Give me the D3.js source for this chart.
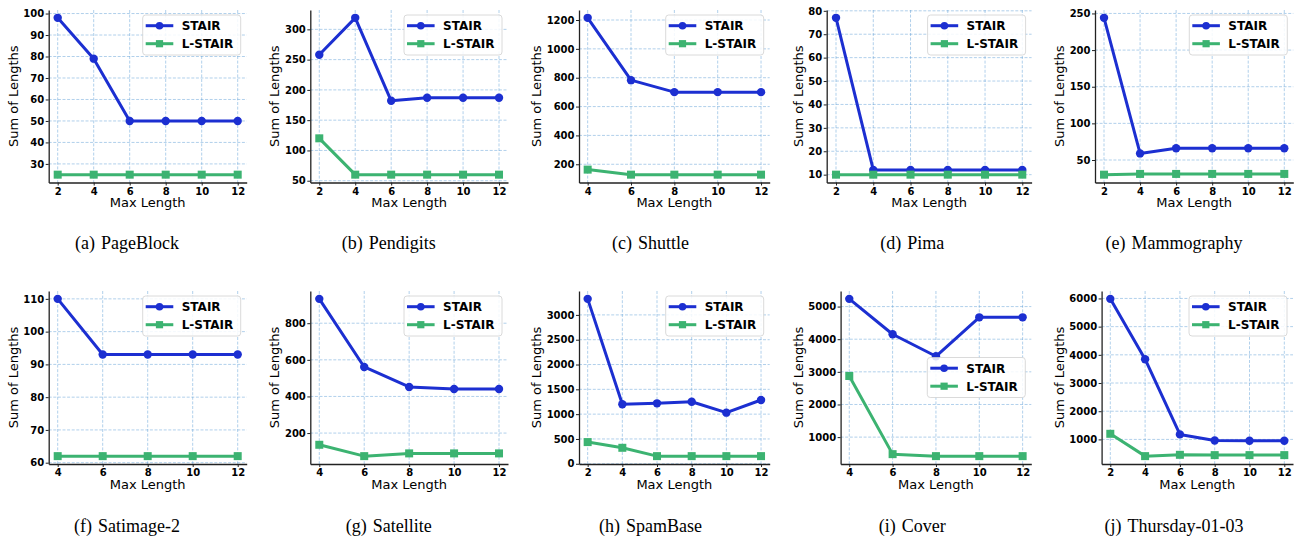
<!DOCTYPE html>
<html>
<head>
<meta charset="utf-8">
<script src="https://cdn.jsdelivr.net/npm/d3@7"></script>
<style>
  body { margin: 0; background: #fff; }
  svg { display: block; }
  .tick text { font-family: "DejaVu Sans", sans-serif; font-weight: bold; font-size: 10px; fill: #000; }
  .axis path, .axis line { stroke: #222; }
</style>
</head>
<body>
<div id="chart"></div>
<script>
// x values (max length)
const maxLenFrom2 = [2, 4, 6, 8, 10, 12];
const maxLenFrom4 = [4, 6, 8, 10, 12];

// Sum of lengths per dataset
const pageBlockStair = [98, 79, 50, 50, 50, 50];
const pageBlockLStair = [25, 25, 25, 25, 25, 25];
const pendigitsStair = [258, 319, 182, 187, 187, 187];
const pendigitsLStair = [120, 60, 60, 60, 60, 60];
const shuttleStair = [1215, 783, 700, 700, 700];
const shuttleLStair = [163, 128, 128, 128, 128];
const pimaStair = [77, 12, 12, 12, 12, 12];
const pimaLStair = [10, 10, 10, 10, 10, 10];
const mammographyStair = [244, 59, 66, 66, 66, 66];
const mammographyLStair = [30, 31, 31, 31, 31, 31];
const satimageStair = [110, 93, 93, 93, 93];
const satimageLStair = [62, 62, 62, 62, 62];
const satelliteStair = [933, 561, 452, 441, 441];
const satelliteLStair = [136, 74, 89, 89, 89];
const spamBaseStair = [3323, 1198, 1218, 1250, 1030, 1285];
const spamBaseLStair = [437, 322, 154, 154, 154, 154];
const coverStair = [5236, 4152, 3477, 4670, 4670];
const coverLStair = [2873, 478, 417, 417, 417];
const thursdayStair = [5985, 3845, 1178, 964, 955, 955];
const thursdayLStair = [1199, 407, 454, 443, 443, 443];

// y tick labels
const pageBlockTicks = [30, 40, 50, 60, 70, 80, 90, 100];
const pendigitsTicks = [50, 100, 150, 200, 250, 300];
const shuttleTicks = [200, 400, 600, 800, 1000, 1200];
const pimaTicks = [10, 20, 30, 40, 50, 60, 70, 80];
const mammographyTicks = [50, 100, 150, 200, 250];
const satimageTicks = [60, 70, 80, 90, 100, 110];
const satelliteTicks = [200, 400, 600, 800];
const spamBaseTicks = [0, 500, 1000, 1500, 2000, 2500, 3000];
const coverTicks = [1000, 2000, 3000, 4000, 5000];
const thursdayTicks = [1000, 2000, 3000, 4000, 5000, 6000];

const seriesNames = ["STAIR", "L-STAIR"];
const seriesColors = ["#1c2fd1", "#3cb371"];

const panels = [
  { tag: "(a)", name: "PageBlock", x: maxLenFrom2, stair: pageBlockStair, lstair: pageBlockLStair, ticks: pageBlockTicks },
  { tag: "(b)", name: "Pendigits", x: maxLenFrom2, stair: pendigitsStair, lstair: pendigitsLStair, ticks: pendigitsTicks },
  { tag: "(c)", name: "Shuttle", x: maxLenFrom4, stair: shuttleStair, lstair: shuttleLStair, ticks: shuttleTicks },
  { tag: "(d)", name: "Pima", x: maxLenFrom2, stair: pimaStair, lstair: pimaLStair, ticks: pimaTicks },
  { tag: "(e)", name: "Mammography", x: maxLenFrom2, stair: mammographyStair, lstair: mammographyLStair, ticks: mammographyTicks },
  { tag: "(f)", name: "Satimage-2", x: maxLenFrom4, stair: satimageStair, lstair: satimageLStair, ticks: satimageTicks },
  { tag: "(g)", name: "Satellite", x: maxLenFrom4, stair: satelliteStair, lstair: satelliteLStair, ticks: satelliteTicks },
  { tag: "(h)", name: "SpamBase", x: maxLenFrom2, stair: spamBaseStair, lstair: spamBaseLStair, ticks: spamBaseTicks },
  { tag: "(i)", name: "Cover", x: maxLenFrom4, stair: coverStair, lstair: coverLStair, ticks: coverTicks, legendMid: true },
  { tag: "(j)", name: "Thursday-01-03", x: maxLenFrom2, stair: thursdayStair, lstair: thursdayLStair, ticks: thursdayTicks },
];

// layout of the axes boxes (pixels)
const rowTop = [10, 291];
const rowBottom = [182.5, 464];
const axLeft = [48.7, 310.3, 579, 826.7, 1095, 48.7, 310.3, 579, 840.6, 1101.6];
const axRight = [246.7, 508, 769.7, 1031.6, 1293.3, 246.7, 508, 769.7, 1031.3, 1293];
const captionBase = [249, 532];

const svg = d3.select("#chart").append("svg")
  .attr("width", 1294)
  .attr("height", 539);

panels.forEach((p, i) => {
  const row = i < 5 ? 0 : 1;
  const col = i % 5;
  const left = axLeft[i], right = axRight[i];
  const top = rowTop[row], bottom = rowBottom[row];

  const xExt = d3.extent(p.x);
  const xPad = (xExt[1] - xExt[0]) * 0.05;
  const yExt = d3.extent(p.stair.concat(p.lstair));
  const yPad = (yExt[1] - yExt[0]) * 0.05;

  const x = d3.scaleLinear().domain([xExt[0] - xPad, xExt[1] + xPad]).range([left, right]);
  const y = d3.scaleLinear().domain([yExt[0] - yPad, yExt[1] + yPad]).range([bottom, top]);

  const g = svg.append("g");

  // grid
  const grid = g.append("g")
    .attr("stroke", "#5b9bd5")
    .attr("stroke-opacity", 0.6)
    .attr("stroke-width", 0.8)
    .attr("stroke-dasharray", "3,1.6");
  grid.selectAll(".gy").data(p.ticks).enter().append("line")
    .attr("x1", left).attr("x2", right)
    .attr("y1", (d) => y(d)).attr("y2", (d) => y(d));
  grid.selectAll(".gx").data(p.x).enter().append("line")
    .attr("x1", (d) => x(d)).attr("x2", (d) => x(d))
    .attr("y1", top).attr("y2", bottom);

  // series
  [p.stair, p.lstair].forEach((vals, s) => {
    const pts = vals.map((v, k) => ({ x: p.x[k], y: v }));
    const line = d3.line().x((d) => x(d.x)).y((d) => y(d.y));
    g.append("path")
      .datum(pts)
      .attr("d", line)
      .attr("fill", "none")
      .attr("stroke", seriesColors[s])
      .attr("stroke-width", 3)
      .attr("stroke-linejoin", "round");
    if (s === 0) {
      g.selectAll(".m0").data(pts).enter().append("circle")
        .attr("cx", (d) => x(d.x)).attr("cy", (d) => y(d.y))
        .attr("r", 4.2).attr("fill", seriesColors[s]);
    } else {
      g.selectAll(".m1").data(pts).enter().append("rect")
        .attr("x", (d) => x(d.x) - 4).attr("y", (d) => y(d.y) - 4)
        .attr("width", 8).attr("height", 8).attr("fill", seriesColors[s]);
    }
  });

  // axes
  const fmt = d3.format("d");
  const xAxisG = g.append("g").attr("class", "axis")
    .attr("transform", `translate(0,${bottom})`)
    .call(d3.axisBottom(x).tickValues(p.x).tickFormat(fmt).tickSize(3).tickSizeOuter(0).tickPadding(2));
  const yAxisG = g.append("g").attr("class", "axis")
    .attr("transform", `translate(${left},0)`)
    .call(d3.axisLeft(y).tickValues(p.ticks).tickFormat(fmt).tickSize(3).tickSizeOuter(0).tickPadding(1.5));
  g.selectAll(".axis path.domain").attr("stroke-width", 1.3);
  g.selectAll(".axis .tick line").attr("stroke-width", 1);

  g.append("text")
    .attr("x", (left + right) / 2)
    .attr("y", bottom + 24.5)
    .attr("text-anchor", "middle")
    .style("font-family", "'DejaVu Sans', sans-serif")
    .style("font-size", "13px")
    .text("Max Length");

  const bb = yAxisG.node().getBBox();
  g.append("text")
    .attr("transform", `translate(${left + bb.x - 5.5},${(top + bottom) / 2}) rotate(-90)`)
    .attr("text-anchor", "middle")
    .style("font-family", "'DejaVu Sans', sans-serif")
    .style("font-size", "13px")
    .text("Sum of Lengths");

  // legend
  const lw = 98, lh = 40;
  const lx = right - 6 - lw;
  const ly = p.legendMid ? (top + bottom) / 2 - lh / 2 : top + 5;
  const leg = g.append("g").attr("transform", `translate(${lx},${ly})`);
  leg.append("rect")
    .attr("width", lw).attr("height", lh).attr("rx", 3)
    .attr("fill", "#fff").attr("fill-opacity", 0.85)
    .attr("stroke", "#d0d0d0").attr("stroke-width", 0.8);
  seriesNames.forEach((nm, s) => {
    const cy = 10.7 + s * 18;
    leg.append("line")
      .attr("x1", 3).attr("x2", 30.6).attr("y1", cy).attr("y2", cy)
      .attr("stroke", seriesColors[s]).attr("stroke-width", 3);
    if (s === 0) {
      leg.append("circle").attr("cx", 16.8).attr("cy", cy).attr("r", 3.8).attr("fill", seriesColors[s]);
    } else {
      leg.append("rect").attr("x", 16.8 - 3.6).attr("y", cy - 3.6).attr("width", 7.2).attr("height", 7.2).attr("fill", seriesColors[s]);
    }
    leg.append("text")
      .attr("x", 39).attr("y", cy + 4.3)
      .style("font-family", "'DejaVu Sans', sans-serif")
      .style("font-weight", "bold")
      .style("font-size", "12px")
      .text(nm);
  });

  // caption
  const cap = svg.append("text")
    .attr("x", 127 + 261.75 * col)
    .attr("y", captionBase[row])
    .attr("text-anchor", "middle")
    .style("font-family", "'Liberation Serif', serif")
    .style("font-size", "18px");
  cap.append("tspan").text(p.tag);
  cap.append("tspan").attr("dx", 6).text(p.name);
});
</script>
</body>
</html>
